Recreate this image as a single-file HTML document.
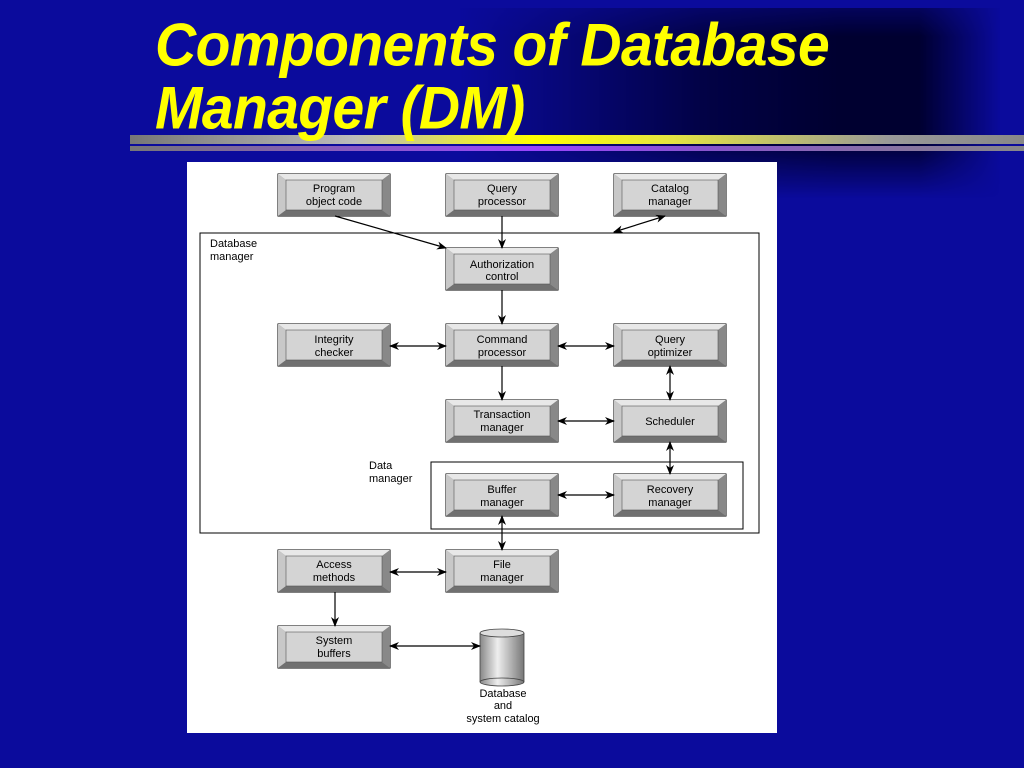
<!DOCTYPE html>
<html><head><style>
html,body{margin:0;padding:0;}
body{width:1024px;height:768px;overflow:hidden;position:relative;background:#0b0b9c;font-family:"Liberation Sans",sans-serif;}
.dark{position:absolute;left:460px;top:8px;width:540px;height:190px;background:linear-gradient(90deg,rgba(0,0,48,0) 0%,rgba(0,0,48,0.8) 45%,#000030 70%,#000030 85%,rgba(0,0,48,0) 100%);-webkit-mask-image:linear-gradient(180deg,rgba(0,0,0,0.6) 0%,#000 15%,#000 70%,rgba(0,0,0,0) 100%);mask-image:linear-gradient(180deg,rgba(0,0,0,0.6) 0%,#000 15%,#000 70%,rgba(0,0,0,0) 100%);}
.t{position:absolute;left:155px;color:#ffff00;font-weight:bold;font-style:italic;font-size:57px;line-height:1;letter-spacing:-0.6px;transform:scaleY(1.05);transform-origin:left top;z-index:2;}
.b1{position:absolute;left:130px;top:135px;width:894px;height:9px;background:linear-gradient(90deg,#777 0%,#bbb 25%,#ffff00 45%,#e6e640 60%,#999 85%,#888 100%);}
.b2{position:absolute;left:130px;top:146px;width:894px;height:5px;background:linear-gradient(90deg,#777 0%,#9944ff 45%,#8855cc 65%,#888 100%);}
svg{position:absolute;left:0;top:0;}
</style></head><body>
<div class="dark"></div>
<div class="b1"></div><div class="b2"></div>
<div class="t" style="top:16px">Components of Database</div>
<div class="t" style="top:79px">Manager (DM)</div>
<svg width="1024" height="768" font-family="Liberation Sans, sans-serif" font-size="11" text-anchor="middle">
<defs>
<marker id="a" markerWidth="10" markerHeight="8" refX="9" refY="4" orient="auto" markerUnits="userSpaceOnUse"><path d="M0,0 L10,4 L0,8 L3,4 z" fill="#000"/></marker>
<marker id="s" markerWidth="10" markerHeight="8" refX="1" refY="4" orient="auto" markerUnits="userSpaceOnUse"><path d="M10,0 L0,4 L10,8 L7,4 z" fill="#000"/></marker>
<linearGradient id="cy" x1="0" x2="1"><stop offset="0" stop-color="#888"/><stop offset="0.4" stop-color="#eee"/><stop offset="1" stop-color="#777"/></linearGradient>
<g id="bx">
<rect x="0" y="0" width="112" height="42" fill="#9a9a9a" stroke="#000" stroke-width="1"/>
<polygon points="0,0 112,0 104,6 8,6" fill="#e8e8e8"/>
<polygon points="0,0 8,6 8,36 0,42" fill="#c8c8c8"/>
<polygon points="0,42 8,36 104,36 112,42" fill="#707070"/>
<polygon points="112,0 104,6 104,36 112,42" fill="#888"/>
<rect x="8" y="6" width="96" height="30" fill="#d4d4d4" stroke="#555" stroke-width="0.6"/>
</g>
</defs>
<rect x="187" y="162" width="590" height="571" fill="#fff"/>
<rect x="200" y="233" width="559" height="300" fill="none" stroke="#000" stroke-width="1"/>
<rect x="431" y="462" width="312" height="67" fill="none" stroke="#000" stroke-width="1"/>
<text x="210" y="247" text-anchor="start">Database</text>
<text x="210" y="260" text-anchor="start">manager</text>
<text x="369" y="469" text-anchor="start">Data</text>
<text x="369" y="482" text-anchor="start">manager</text>
<g fill="#000">
<use href="#bx" x="278" y="174"/><text x="334" y="192">Program</text><text x="334" y="205">object code</text>
<use href="#bx" x="446" y="174"/><text x="502" y="192">Query</text><text x="502" y="205">processor</text>
<use href="#bx" x="614" y="174"/><text x="670" y="192">Catalog</text><text x="670" y="205">manager</text>
<use href="#bx" x="446" y="248"/><text x="502" y="268">Authorization</text><text x="502" y="280">control</text>
<use href="#bx" x="278" y="324"/><text x="334" y="343">Integrity</text><text x="334" y="356">checker</text>
<use href="#bx" x="446" y="324"/><text x="502" y="343">Command</text><text x="502" y="356">processor</text>
<use href="#bx" x="614" y="324"/><text x="670" y="343">Query</text><text x="670" y="356">optimizer</text>
<use href="#bx" x="446" y="400"/><text x="502" y="418">Transaction</text><text x="502" y="431">manager</text>
<use href="#bx" x="614" y="400"/><text x="670" y="425">Scheduler</text>
<use href="#bx" x="446" y="474"/><text x="502" y="493">Buffer</text><text x="502" y="506">manager</text>
<use href="#bx" x="614" y="474"/><text x="670" y="493">Recovery</text><text x="670" y="506">manager</text>
<use href="#bx" x="446" y="550"/><text x="502" y="568">File</text><text x="502" y="581">manager</text>
<use href="#bx" x="278" y="550"/><text x="334" y="568">Access</text><text x="334" y="581">methods</text>
<use href="#bx" x="278" y="626"/><text x="334" y="644">System</text><text x="334" y="657">buffers</text>
</g>
<rect x="480" y="633" width="44" height="49" fill="url(#cy)"/>
<ellipse cx="502" cy="682" rx="22" ry="4" fill="url(#cy)" stroke="#444" stroke-width="0.8"/>
<line x1="480" y1="633" x2="480" y2="682" stroke="#444" stroke-width="0.8"/>
<line x1="524" y1="633" x2="524" y2="682" stroke="#444" stroke-width="0.8"/>
<ellipse cx="502" cy="633" rx="22" ry="4" fill="#ddd" stroke="#444" stroke-width="0.8"/>
<text x="503" y="697">Database</text><text x="503" y="709">and</text><text x="503" y="722">system catalog</text>
<g stroke="#000" stroke-width="1.2" fill="none">
<line x1="335" y1="216" x2="446" y2="248" marker-end="url(#a)"/>
<line x1="502" y1="216" x2="502" y2="248" marker-end="url(#a)"/>
<line x1="614" y1="232" x2="665" y2="216" marker-end="url(#a)" marker-start="url(#s)"/>
<line x1="502" y1="290" x2="502" y2="324" marker-end="url(#a)"/>
<line x1="390" y1="346" x2="446" y2="346" marker-end="url(#a)" marker-start="url(#s)"/>
<line x1="558" y1="346" x2="614" y2="346" marker-end="url(#a)" marker-start="url(#s)"/>
<line x1="670" y1="366" x2="670" y2="400" marker-end="url(#a)" marker-start="url(#s)"/>
<line x1="502" y1="366" x2="502" y2="400" marker-end="url(#a)"/>
<line x1="558" y1="421" x2="614" y2="421" marker-end="url(#a)" marker-start="url(#s)"/>
<line x1="670" y1="442" x2="670" y2="474" marker-end="url(#a)" marker-start="url(#s)"/>
<line x1="558" y1="495" x2="614" y2="495" marker-end="url(#a)" marker-start="url(#s)"/>
<line x1="502" y1="516" x2="502" y2="550" marker-end="url(#a)" marker-start="url(#s)"/>
<line x1="390" y1="572" x2="446" y2="572" marker-end="url(#a)" marker-start="url(#s)"/>
<line x1="335" y1="592" x2="335" y2="626" marker-end="url(#a)"/>
<line x1="390" y1="646" x2="480" y2="646" marker-end="url(#a)" marker-start="url(#s)"/>
</g>
</svg>
</body></html>
